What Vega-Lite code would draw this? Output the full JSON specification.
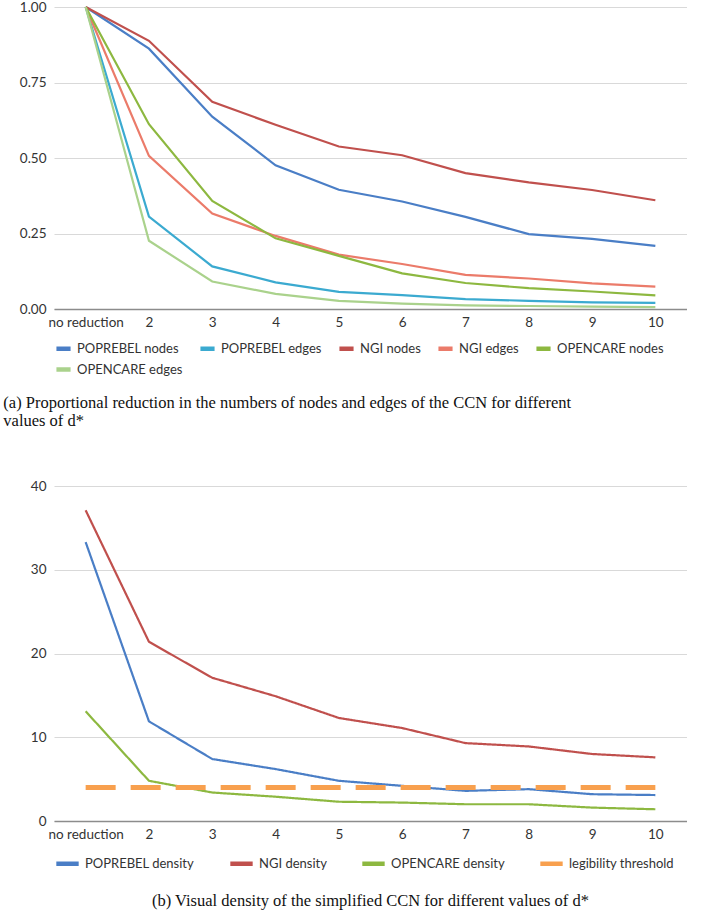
{
  "$schema": "https://vega.github.io/schema/vega-lite/v6.json",
  "background": "white",
  "padding": {"left": 3, "top": 0, "right": 0, "bottom": 0},
  "config": {
    "font": "Lato",
    "view": {"stroke": null},
    "axis": {"labelFont": "Lato", "labelFontSize": 13.5, "labelColor": "#333333", "title": null, "ticks": false, "domain": false, "grid": false},
    "legend": {"labelFont": "Lato", "labelFontSize": 13, "labelColor": "#333333", "symbolType": "stroke", "symbolStrokeWidth": 4.5, "title": null, "orient": "bottom", "direction": "horizontal", "labelLimit": 300},
    "title": {"font": "Liberation Serif", "fontSize": 16.5, "fontWeight": "normal", "color": "#111111"}
  },
  "spacing": 49,
  "resolve": {"scale": {"color": "independent", "strokeDash": "independent", "y": "independent", "x": "independent"}},
  "datasets": {
    "a": [
      {"d": "no reduction", "k": 1, "series": "POPREBEL nodes", "v": 1},
      {"d": "2", "k": 2, "series": "POPREBEL nodes", "v": 0.862},
      {"d": "3", "k": 3, "series": "POPREBEL nodes", "v": 0.637},
      {"d": "4", "k": 4, "series": "POPREBEL nodes", "v": 0.476},
      {"d": "5", "k": 5, "series": "POPREBEL nodes", "v": 0.395},
      {"d": "6", "k": 6, "series": "POPREBEL nodes", "v": 0.356},
      {"d": "7", "k": 7, "series": "POPREBEL nodes", "v": 0.305},
      {"d": "8", "k": 8, "series": "POPREBEL nodes", "v": 0.248},
      {"d": "9", "k": 9, "series": "POPREBEL nodes", "v": 0.232},
      {"d": "10", "k": 10, "series": "POPREBEL nodes", "v": 0.209},
      {"d": "no reduction", "k": 1, "series": "POPREBEL edges", "v": 1},
      {"d": "2", "k": 2, "series": "POPREBEL edges", "v": 0.306},
      {"d": "3", "k": 3, "series": "POPREBEL edges", "v": 0.141},
      {"d": "4", "k": 4, "series": "POPREBEL edges", "v": 0.088},
      {"d": "5", "k": 5, "series": "POPREBEL edges", "v": 0.057},
      {"d": "6", "k": 6, "series": "POPREBEL edges", "v": 0.046},
      {"d": "7", "k": 7, "series": "POPREBEL edges", "v": 0.033},
      {"d": "8", "k": 8, "series": "POPREBEL edges", "v": 0.027},
      {"d": "9", "k": 9, "series": "POPREBEL edges", "v": 0.022},
      {"d": "10", "k": 10, "series": "POPREBEL edges", "v": 0.02},
      {"d": "no reduction", "k": 1, "series": "NGI nodes", "v": 1},
      {"d": "2", "k": 2, "series": "NGI nodes", "v": 0.888},
      {"d": "3", "k": 3, "series": "NGI nodes", "v": 0.686},
      {"d": "4", "k": 4, "series": "NGI nodes", "v": 0.61},
      {"d": "5", "k": 5, "series": "NGI nodes", "v": 0.538},
      {"d": "6", "k": 6, "series": "NGI nodes", "v": 0.509},
      {"d": "7", "k": 7, "series": "NGI nodes", "v": 0.45},
      {"d": "8", "k": 8, "series": "NGI nodes", "v": 0.419},
      {"d": "9", "k": 9, "series": "NGI nodes", "v": 0.394},
      {"d": "10", "k": 10, "series": "NGI nodes", "v": 0.36},
      {"d": "no reduction", "k": 1, "series": "NGI edges", "v": 1},
      {"d": "2", "k": 2, "series": "NGI edges", "v": 0.507},
      {"d": "3", "k": 3, "series": "NGI edges", "v": 0.316},
      {"d": "4", "k": 4, "series": "NGI edges", "v": 0.242},
      {"d": "5", "k": 5, "series": "NGI edges", "v": 0.18},
      {"d": "6", "k": 6, "series": "NGI edges", "v": 0.149},
      {"d": "7", "k": 7, "series": "NGI edges", "v": 0.113},
      {"d": "8", "k": 8, "series": "NGI edges", "v": 0.101},
      {"d": "9", "k": 9, "series": "NGI edges", "v": 0.085},
      {"d": "10", "k": 10, "series": "NGI edges", "v": 0.074},
      {"d": "no reduction", "k": 1, "series": "OPENCARE nodes", "v": 1},
      {"d": "2", "k": 2, "series": "OPENCARE nodes", "v": 0.612},
      {"d": "3", "k": 3, "series": "OPENCARE nodes", "v": 0.358},
      {"d": "4", "k": 4, "series": "OPENCARE nodes", "v": 0.234},
      {"d": "5", "k": 5, "series": "OPENCARE nodes", "v": 0.176},
      {"d": "6", "k": 6, "series": "OPENCARE nodes", "v": 0.118},
      {"d": "7", "k": 7, "series": "OPENCARE nodes", "v": 0.086},
      {"d": "8", "k": 8, "series": "OPENCARE nodes", "v": 0.069},
      {"d": "9", "k": 9, "series": "OPENCARE nodes", "v": 0.058},
      {"d": "10", "k": 10, "series": "OPENCARE nodes", "v": 0.045},
      {"d": "no reduction", "k": 1, "series": "OPENCARE edges", "v": 1},
      {"d": "2", "k": 2, "series": "OPENCARE edges", "v": 0.226},
      {"d": "3", "k": 3, "series": "OPENCARE edges", "v": 0.091},
      {"d": "4", "k": 4, "series": "OPENCARE edges", "v": 0.05},
      {"d": "5", "k": 5, "series": "OPENCARE edges", "v": 0.027},
      {"d": "6", "k": 6, "series": "OPENCARE edges", "v": 0.018},
      {"d": "7", "k": 7, "series": "OPENCARE edges", "v": 0.012},
      {"d": "8", "k": 8, "series": "OPENCARE edges", "v": 0.01},
      {"d": "9", "k": 9, "series": "OPENCARE edges", "v": 0.008},
      {"d": "10", "k": 10, "series": "OPENCARE edges", "v": 0.006}
    ],
    "b": [
      {"d": "no reduction", "k": 1, "series": "POPREBEL density", "v": 33.3},
      {"d": "2", "k": 2, "series": "POPREBEL density", "v": 11.9},
      {"d": "3", "k": 3, "series": "POPREBEL density", "v": 7.4},
      {"d": "4", "k": 4, "series": "POPREBEL density", "v": 6.2},
      {"d": "5", "k": 5, "series": "POPREBEL density", "v": 4.8},
      {"d": "6", "k": 6, "series": "POPREBEL density", "v": 4.2},
      {"d": "7", "k": 7, "series": "POPREBEL density", "v": 3.6},
      {"d": "8", "k": 8, "series": "POPREBEL density", "v": 3.8},
      {"d": "9", "k": 9, "series": "POPREBEL density", "v": 3.2},
      {"d": "10", "k": 10, "series": "POPREBEL density", "v": 3.1},
      {"d": "no reduction", "k": 1, "series": "NGI density", "v": 37.1},
      {"d": "2", "k": 2, "series": "NGI density", "v": 21.4},
      {"d": "3", "k": 3, "series": "NGI density", "v": 17.1},
      {"d": "4", "k": 4, "series": "NGI density", "v": 14.9},
      {"d": "5", "k": 5, "series": "NGI density", "v": 12.3},
      {"d": "6", "k": 6, "series": "NGI density", "v": 11.1},
      {"d": "7", "k": 7, "series": "NGI density", "v": 9.3},
      {"d": "8", "k": 8, "series": "NGI density", "v": 8.9},
      {"d": "9", "k": 9, "series": "NGI density", "v": 8.0},
      {"d": "10", "k": 10, "series": "NGI density", "v": 7.6},
      {"d": "no reduction", "k": 1, "series": "OPENCARE density", "v": 13.1},
      {"d": "2", "k": 2, "series": "OPENCARE density", "v": 4.8},
      {"d": "3", "k": 3, "series": "OPENCARE density", "v": 3.4},
      {"d": "4", "k": 4, "series": "OPENCARE density", "v": 2.9},
      {"d": "5", "k": 5, "series": "OPENCARE density", "v": 2.3},
      {"d": "6", "k": 6, "series": "OPENCARE density", "v": 2.2},
      {"d": "7", "k": 7, "series": "OPENCARE density", "v": 2.0},
      {"d": "8", "k": 8, "series": "OPENCARE density", "v": 2.0},
      {"d": "9", "k": 9, "series": "OPENCARE density", "v": 1.6},
      {"d": "10", "k": 10, "series": "OPENCARE density", "v": 1.4},
      {"d": "no reduction", "k": 1, "series": "legibility threshold", "v": 4},
      {"d": "2", "k": 2, "series": "legibility threshold", "v": 4},
      {"d": "3", "k": 3, "series": "legibility threshold", "v": 4},
      {"d": "4", "k": 4, "series": "legibility threshold", "v": 4},
      {"d": "5", "k": 5, "series": "legibility threshold", "v": 4},
      {"d": "6", "k": 6, "series": "legibility threshold", "v": 4},
      {"d": "7", "k": 7, "series": "legibility threshold", "v": 4},
      {"d": "8", "k": 8, "series": "legibility threshold", "v": 4},
      {"d": "9", "k": 9, "series": "legibility threshold", "v": 4},
      {"d": "10", "k": 10, "series": "legibility threshold", "v": 4}
    ]
  },
  "vconcat": [
    {
      "width": 633,
      "height": 302,
      "data": {"name": "a"},
      "title": {"text": ["(a) Proportional reduction in the numbers of nodes and edges of the CCN for different", "values of d*"], "orient": "bottom", "anchor": "start", "frame": "bounds", "dx": -16, "offset": 16, "lineHeight": 18},
      "mark": {"type": "line", "strokeWidth": 2.2},
      "encoding": {
        "x": {"field": "d", "type": "ordinal", "sort": ["no reduction", "2", "3", "4", "5", "6", "7", "8", "9", "10"], "scale": {"type": "point", "padding": 0.5}, "axis": {"labelAngle": 0, "domain": true, "domainColor": "#8c8c8c", "domainWidth": 1.5, "labelPadding": 6}},
        "y": {"field": "v", "type": "quantitative", "scale": {"domain": [0, 1], "nice": false}, "axis": {"values": [0, 0.25, 0.5, 0.75, 1], "format": ".2f", "grid": true, "gridColor": "#d9d9d9", "gridWidth": 1.2, "labelPadding": 8}},
        "order": {"field": "k", "type": "quantitative"},
        "color": {"field": "series", "type": "nominal",
          "scale": {"domain": ["POPREBEL nodes", "POPREBEL edges", "NGI nodes", "NGI edges", "OPENCARE nodes", "OPENCARE edges"], "range": ["#4A7EC6", "#3BAAD0", "#C0504D", "#EB7B6A", "#8DB840", "#AAD28C"]},
          "legend": {"columns": 5, "columnPadding": 8, "rowPadding": 2, "symbolSize": 200, "offset": 10}}
      }
    },
    {
      "width": 633,
      "height": 335,
      "data": {"name": "b"},
      "title": {"text": "(b) Visual density of the simplified CCN for different values of d*", "orient": "bottom", "anchor": "middle", "offset": 20},
      "encoding": {
        "x": {"field": "d", "type": "ordinal", "sort": ["no reduction", "2", "3", "4", "5", "6", "7", "8", "9", "10"], "scale": {"type": "point", "padding": 0.5}, "axis": {"labelAngle": 0, "domain": true, "domainColor": "#8c8c8c", "domainWidth": 1.5, "labelPadding": 6}},
        "y": {"field": "v", "type": "quantitative", "scale": {"domain": [0, 40], "nice": false}, "axis": {"values": [0, 10, 20, 30, 40], "format": "d", "grid": true, "gridColor": "#d9d9d9", "gridWidth": 1.2, "labelPadding": 8}},
        "order": {"field": "k", "type": "quantitative"},
        "color": {"field": "series", "type": "nominal",
          "scale": {"domain": ["POPREBEL density", "NGI density", "OPENCARE density", "legibility threshold"], "range": ["#4A7EC6", "#C0504D", "#8DB840", "#F8A04E"]},
          "legend": {"columns": 4, "columnPadding": 26, "symbolSize": 500, "offset": 9}},
        "strokeDash": {"field": "series", "type": "nominal",
          "scale": {"domain": ["POPREBEL density", "NGI density", "OPENCARE density", "legibility threshold"], "range": [[1, 0], [1, 0], [1, 0], [30, 15]]},
          "legend": {"columns": 4, "columnPadding": 26, "symbolSize": 500, "offset": 9}}
      },
      "layer": [
        {"transform": [{"filter": "datum.series !== 'legibility threshold'"}], "mark": {"type": "line", "strokeWidth": 2.2}},
        {"transform": [{"filter": "datum.series === 'legibility threshold'"}], "mark": {"type": "line", "strokeWidth": 5}}
      ]
    }
  ]
}
